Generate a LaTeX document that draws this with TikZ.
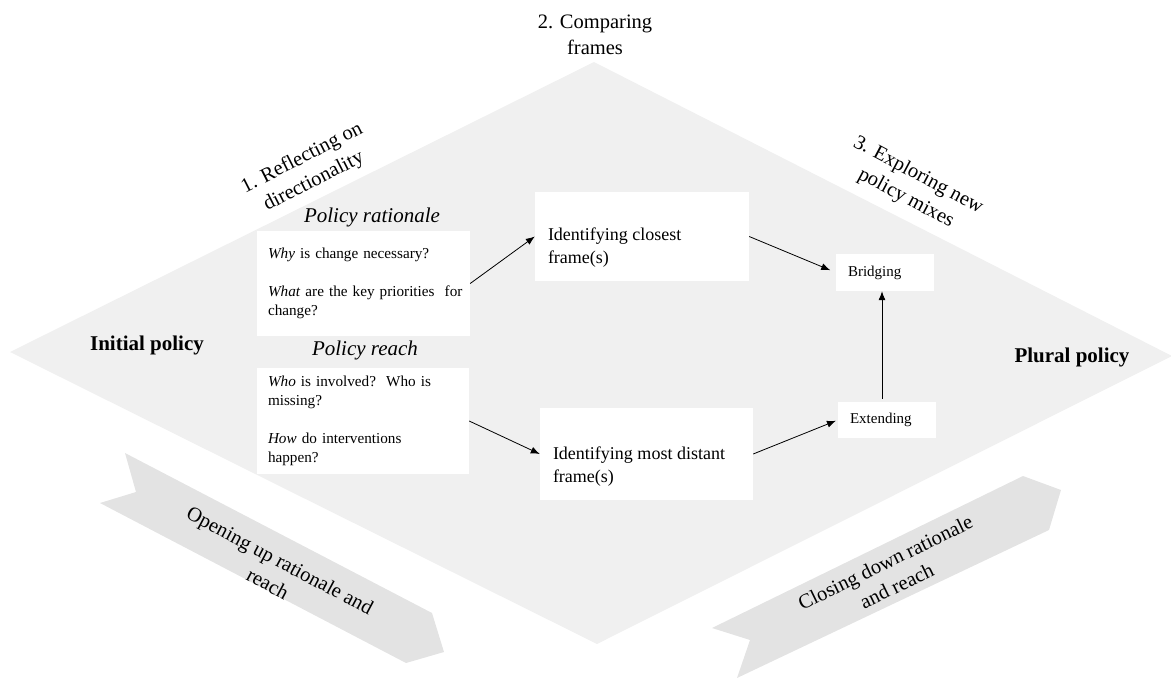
\documentclass[tikz,border=0pt]{standalone}
\usepackage{fontspec}
\setmainfont{Liberation Serif}
\usetikzlibrary{arrows.meta,calc}
\definecolor{diamondgray}{RGB}{240,240,240}
\definecolor{chevgray}{RGB}{227,227,227}
\begin{document}
\begin{tikzpicture}[x=1pt,y=-1pt,
  lbl/.style={font=\fontsize{20.5}{26}\selectfont, align=center, inner sep=0pt},
  head/.style={font=\fontsize{21}{25}\selectfont\itshape, inner sep=0pt},
  side/.style={font=\fontsize{21}{25}\selectfont\bfseries, inner sep=0pt, anchor=base},
  wbox/.style={fill=white, inner sep=0pt},
  qbox/.style={fill=white, align=left, inner ysep=0pt, inner xsep=11pt,
     font=\fontsize{15.2}{19}\selectfont},
  fbox/.style={font=\fontsize{18}{23}\selectfont, align=left, inner sep=0pt, anchor=west},
  sbox/.style={fill=white, align=left, inner ysep=0pt, inner xsep=12pt,
     font=\fontsize{15}{18}\selectfont},
  arr/.style={-{Latex[length=9pt,width=7pt]}, line width=0.8pt}]
\useasboundingbox (0,0) rectangle (1171,680);

% background diamond
\fill[diamondgray] (594,62) -- (1172,356) -- (597,644) -- (10,352) -- cycle;

% chevrons
\fill[chevgray] (125,453) -- (432,613) -- (444,652) -- (406,663) -- (100,503) -- (136,492) -- cycle;
\fill[chevgray] (712,628) -- (1023,476) -- (1061,490) -- (1049,530) -- (737,678) -- (750,640) -- cycle;

% titles
\node[lbl] (t2) at (595,34.5) {2. Comparing\\frames};
\node[lbl, rotate=27] (t1) at (308,170) {1. Reflecting on\\directionality};
\node[lbl, rotate=-28] (t3) at (912,187) {3. Exploring new\\policy mixes};
\node[lbl, rotate=-28] (op) at (274,572) {Opening up rationale and\\reach};
\node[lbl, rotate=26] (cd) at (891,574) {Closing down rationale\\and reach};

\node[side] (ini) at (147,350) {Initial policy};
\node[side] (plu) at (1072,362) {Plural policy};

\node[head] (hr) at (372,217) {Policy rationale};
\node[head] (hc) at (365,350) {Policy reach};

% question boxes
\node[qbox, text width=191pt, minimum height=105pt] (rat) at (363.5,283.5)
  {\mbox{\textit{Why} is change necessary?}\\[19pt]
   \mbox{\textit{What} are the key priorities\ \ for}\\
   change?};
\node[qbox, text width=190pt, minimum height=106pt] (rch) at (363,421)
  {\mbox{\textit{Who} is involved?\ \ Who is}\\
   missing?\\[19pt]
   \mbox{\textit{How} do interventions}\\
   happen?};

% frame boxes
\node[wbox, minimum width=214pt, minimum height=89pt] (cl) at (642,236.5) {};
\node[fbox] (clt) at ($(cl.west)+(13,11)$) {Identifying closest\\frame(s)};
\node[wbox, minimum width=213pt, minimum height=92pt] (ds) at (646.5,454) {};
\node[fbox] (dst) at ($(ds.west)+(13,12.5)$) {Identifying most distant\\frame(s)};

% outcome boxes
\node[sbox, text width=74pt, minimum height=37pt] (brg) at (885,272.5) {Bridging};
\node[sbox, text width=74pt, minimum height=36pt] (ext) at (887,420) {Extending};

% arrows
\draw[arr] (rat.east) -- (cl.west);
\draw[arr] (rch.east) -- (ds.west);
\draw[arr, shorten >=6pt] (cl.east) -- (brg.west);
\draw[arr, shorten >=2pt] (ds.east) -- (ext.west);
\draw[arr, shorten <=3pt] ([xshift=-5pt]ext.north) -- ([xshift=-3pt]brg.south);
\end{tikzpicture}
\end{document}
